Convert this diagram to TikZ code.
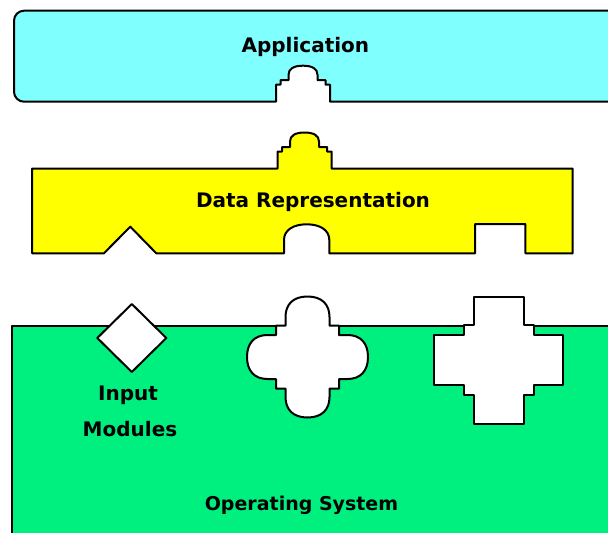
\documentclass[tikz,border=0pt]{standalone}
\usepackage{fontspec}
\setmainfont{DejaVu Sans}
\definecolor{appc}{RGB}{128,255,255}
\definecolor{datac}{RGB}{255,255,0}
\definecolor{osc}{RGB}{0,240,128}
\tikzset{
  layer/.style={draw=black, line width=2pt, line join=round},
  hole/.style={draw=black, fill=white, line width=2pt, line join=round},
  txt/.style={font=\bfseries\fontsize{20}{24}\selectfont, text=black, inner sep=0pt, anchor=base},
  plug/.style={insert path={-- ++(0,-17) -- ++({#1*4.5},0) -- ++(0,-4.5) -- ++({#1*8},0) -- ++(0,-5.5)
     .. controls +(0,-6) and +({#1*(-9)},0) .. ++({#1*14.5},-9)
     .. controls +({#1*9},0) and +(0,-6) .. ++({#1*14.5},9)
     -- ++(0,5.5) -- ++({#1*8},0) -- ++(0,4.5) -- ++({#1*4.5},0) -- ++(0,17)}}
}
\begin{document}
\begin{tikzpicture}[x=1pt,y=-1pt]
\useasboundingbox (0,0) rectangle (608,533);
\clip (0,0) rectangle (608,533);
\fill[white] (0,0) rectangle (608,533);
% Application layer
\path[layer, fill=appc] (640,101.7) -- (330,101.7) [plug=-1] -- (24,101.7)
  .. controls (18.5,101.7) and (14,97.2) .. (14,91.7) -- (14,20.7)
  .. controls (14,15.2) and (18.5,10.7) .. (24,10.7) -- (640,10.7) -- cycle;
% Data representation layer
\path[layer, fill=datac] (32.2,168.5) -- (277.5,168.5) [plug=1] -- (572.7,168.5)
  -- (572.7,253.3) -- (525.4,253.3) -- (525.4,224) -- (475,224) -- (475,253.3)
  -- (329.3,253.3) -- (329.3,240)
  .. controls (329.3,230) and (320,224.3) .. (306.7,224.3)
  .. controls (293.4,224.3) and (284,230) .. (284,240)
  -- (284,253.3) -- (156.3,253.3) -- (130.3,226.7) -- (103.9,253.3) -- (32.2,253.3) -- cycle;
% Operating system layer
\path[layer, fill=osc] (11.6,325.7) rectangle (640,560);
% diamond socket
\path[hole] (131.8,304) -- (166.3,338) -- (131.8,372) -- (97.3,338) -- cycle;
% quatrefoil socket
\begin{scope}[shift={(307.5,357)}]
\path[hole] (-22,-31.5) -- (-22,-40)
  .. controls (-22,-53) and (-14,-60.5) .. (0,-60.5)
  .. controls (14,-60.5) and (22,-53) .. (22,-40)
  -- (22,-31.5) -- (31.5,-31.5) -- (31.5,-22) -- (40,-22)
  .. controls (53,-22) and (60.5,-14) .. (60.5,0)
  .. controls (60.5,14) and (53,22) .. (40,22)
  -- (31.5,22) -- (31.5,31.5) -- (22,31.5) -- (22,40)
  .. controls (22,53) and (14,60.5) .. (0,60.5)
  .. controls (-14,60.5) and (-22,53) .. (-22,40)
  -- (-22,31.5) -- (-31.5,31.5) -- (-31.5,22) -- (-40,22)
  .. controls (-53,22) and (-60.5,14) .. (-60.5,0)
  .. controls (-60.5,-14) and (-53,-22) .. (-40,-22)
  -- (-31.5,-22) -- (-31.5,-31.5) -- cycle;
\end{scope}
% cross socket
\begin{scope}[shift={(498.5,360)}]
\path[hole] (-25,-63.5) -- (25,-63.5) -- (25,-35) -- (35,-35) -- (35,-25) -- (64.5,-25)
  -- (64.5,25) -- (35,25) -- (35,35) -- (25,35) -- (25,63.5) -- (-25,63.5)
  -- (-25,35) -- (-35,35) -- (-35,25) -- (-64.5,25) -- (-64.5,-25) -- (-35,-25)
  -- (-35,-35) -- (-25,-35) -- cycle;
\end{scope}
% labels
\node[txt] (app) at (305.4,52) {Application};
\node[txt] (data) at (313,207) {Data Representation};
\node[txt] (inp) at (128,400) {Input};
\node[txt] (mod) at (130,436) {Modules};
\node[txt, font=\bfseries\fontsize{19}{23}\selectfont] (os) at (301.5,510) {Operating System};
\end{tikzpicture}
\end{document}
